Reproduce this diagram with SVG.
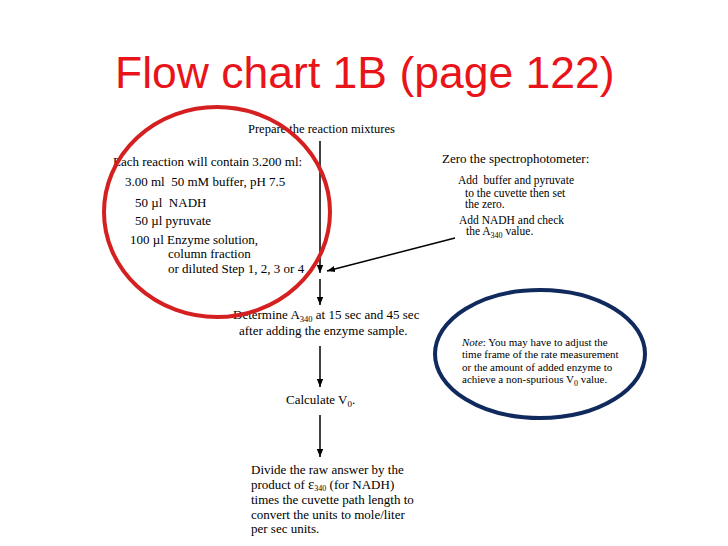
<svg xmlns="http://www.w3.org/2000/svg" width="728" height="546" viewBox="0 0 728 546">
<defs>
<marker id="ah" markerWidth="8" markerHeight="8" refX="8" refY="4" orient="auto" markerUnits="userSpaceOnUse">
<path d="M0,0.8 L8,4 L0,7.2 Z" fill="#000"/>
</marker>
<style>
.t{font-family:"Liberation Serif","Times New Roman",serif;fill:#000;}
.s13{font-size:13px;}
.s12{font-size:12.5px;}
.s11{font-size:11.5px;}
.s10{font-size:11px;}
.c{stroke:#000;stroke-width:1.5;fill:none;marker-end:url(#ah);}
</style>
</defs>
<rect width="728" height="546" fill="#fff"/>
<text x="115" y="88" font-family="Liberation Sans, Arial, sans-serif" font-size="44.5" fill="#e8141a">Flow chart 1B (page 122)</text>

<g id="connectors">
<line class="c" x1="320" y1="141" x2="320" y2="273"/>
<line class="c" x1="320" y1="279" x2="320" y2="305"/>
<line class="c" x1="320" y1="346" x2="320" y2="387"/>
<line class="c" x1="320" y1="415" x2="320" y2="457"/>
<line class="c" x1="455" y1="238" x2="327" y2="271"/>
</g>

<g id="prepare">
<text class="t s12" x="248" y="133">Prepare the reaction mixtures</text>
</g>
<g id="contents">
<text class="t s13" x="113" y="166">Each reaction will contain 3.200 ml:</text>
<text class="t s13" x="125" y="186" xml:space="preserve">3.00 ml  50 mM buffer, pH 7.5</text>
<text class="t s13" x="135" y="207" xml:space="preserve">50 µl  NADH</text>
<text class="t s13" x="135" y="225">50 µl pyruvate</text>
<text class="t s13" x="130" y="244">100 µl Enzyme solution,</text>
<text class="t s13" x="168" y="258">column fraction</text>
<text class="t s13" x="168" y="273">or diluted Step 1, 2, 3 or 4</text>
</g>
<g id="zero">
<text class="t s13" x="442" y="163">Zero the spectrophotometer:</text>
<text class="t s11" x="458" y="184" xml:space="preserve">Add  buffer and pyruvate</text>
<text class="t s11" x="465" y="197">to the cuvette then set</text>
<text class="t s11" x="465" y="208">the zero.</text>
<text class="t s11" x="459" y="224">Add NADH and check</text>
<text class="t s11" x="466" y="235">the A<tspan font-size="8" dy="2.5">340</tspan><tspan dy="-2.5"> value.</tspan></text>
</g>
<g id="determine">
<text class="t s13" x="233" y="319">Determine A<tspan font-size="8.5" dy="2.5">340</tspan><tspan dy="-2.5"> at 15 sec and 45 sec</tspan></text>
<text class="t s13" x="239" y="335">after adding the enzyme sample.</text>
</g>
<g id="calculate">
<text class="t s13" x="286" y="404">Calculate V<tspan font-size="9" dy="3">0</tspan><tspan dy="-3">.</tspan></text>
</g>
<g id="divide">
<text class="t s13" x="251" y="474">Divide the raw answer by the</text>
<text class="t s13" x="251" y="489">product of <tspan font-size="15">ε</tspan><tspan font-size="8" dy="2">340</tspan><tspan dy="-2"> (for NADH)</tspan></text>
<text class="t s13" x="251" y="504">times the cuvette path length to</text>
<text class="t s13" x="251" y="519">convert the units to mole/liter</text>
<text class="t s13" x="251" y="533">per sec units.</text>
</g>
<g id="note">
<ellipse cx="540" cy="354" rx="105" ry="64" fill="none" stroke="#112a5e" stroke-width="4"/>
<text class="t s10" x="462" y="346"><tspan font-style="italic">Note</tspan>: You may have to adjust the</text>
<text class="t s10" x="462" y="358">time frame of the rate measurement</text>
<text class="t s10" x="462" y="371">or the amount of added enzyme to</text>
<text class="t s10" x="462" y="383">achieve a non-spurious V<tspan font-size="8" dy="2.5">0</tspan><tspan dy="-2.5"> value.</tspan></text>
</g>
<g id="highlight">
<ellipse cx="217" cy="212" rx="113" ry="105" fill="none" stroke="#d42020" stroke-width="4"/>
</g>
</svg>
